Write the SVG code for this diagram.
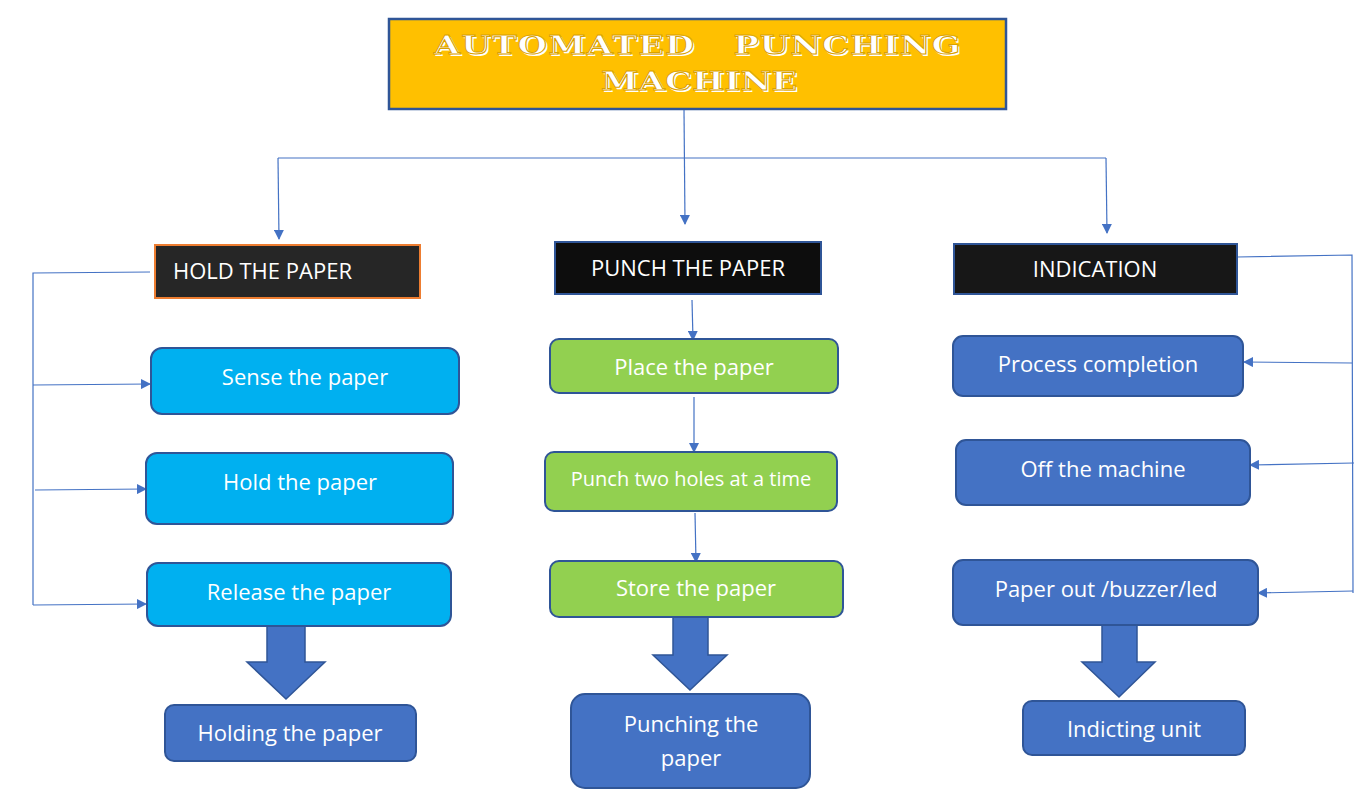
<svg xmlns="http://www.w3.org/2000/svg" width="1367" height="799" viewBox="0 0 1367 799">
<defs>
<marker id="ah" markerWidth="10" markerHeight="10" refX="9" refY="5" orient="auto" markerUnits="userSpaceOnUse">
<path d="M0,0 L10,5 L0,10 Z" fill="#4472C4"/>
</marker>
<style>
.conn{fill:none;stroke:#4472C4;stroke-width:1.2}
.hdr{font-family:"Open Sans","Liberation Sans",sans-serif;font-size:22px;fill:#fff}
.lbl{font-family:"Open Sans","Liberation Sans",sans-serif;font-size:22px;fill:#fff;text-anchor:middle}
.cyan{fill:#00B0F0;stroke:#2F5597;stroke-width:2}
.green{fill:#92D050;stroke:#2F5597;stroke-width:2}
.blue{fill:#4472C4;stroke:#2F5597;stroke-width:2}
.big{fill:#4472C4;stroke:#2F5597;stroke-width:1.5}
.ttl{font-family:"DejaVu Serif","Liberation Serif",serif;font-weight:bold;font-size:26px;text-anchor:middle;fill:#fff;white-space:pre}
.ttlo{stroke:#D9A200;stroke-width:0.9}
</style>
</defs>
<rect width="1367" height="799" fill="#fff"/>

<g id="title">
<rect x="389" y="19" width="617" height="90" fill="#FFC000" stroke="#2F5597" stroke-width="2.5"/>
<g transform="translate(697,0) scale(1.3,1)">
<text class="ttl" x="1.5" y="56" textLength="405" lengthAdjust="spacing" xml:space="preserve">AUTOMATED   PUNCHING</text>
<text class="ttl ttlo" x="0" y="54" textLength="405" lengthAdjust="spacing" xml:space="preserve">AUTOMATED   PUNCHING</text>
<text class="ttl" x="3" y="92" textLength="151" lengthAdjust="spacing">MACHINE</text>
<text class="ttl ttlo" x="1.5" y="90" textLength="151" lengthAdjust="spacing">MACHINE</text>
</g>
</g>

<g id="connectors">
<path class="conn" d="M684,110 L685,224" marker-end="url(#ah)"/>
<path class="conn" d="M278,158 L1106,158"/>
<path class="conn" d="M278,158 L279,239" marker-end="url(#ah)"/>
<path class="conn" d="M1106,158 L1107,233" marker-end="url(#ah)"/>
<path class="conn" d="M150,272 L33,273 L33,605"/>
<path class="conn" d="M33,385 L150,384" marker-end="url(#ah)"/>
<path class="conn" d="M35,490 L146,489" marker-end="url(#ah)"/>
<path class="conn" d="M33,605 L146,604" marker-end="url(#ah)"/>
<path class="conn" d="M692,300 L693,340" marker-end="url(#ah)"/>
<path class="conn" d="M694,397 L694,452" marker-end="url(#ah)"/>
<path class="conn" d="M695,513 L696,562" marker-end="url(#ah)"/>
<path class="conn" d="M1237,257 L1352,255 L1353,593"/>
<path class="conn" d="M1352,363 L1244,362" marker-end="url(#ah)"/>
<path class="conn" d="M1354,463 L1250,465" marker-end="url(#ah)"/>
<path class="conn" d="M1353,591 L1258,593" marker-end="url(#ah)"/>
<path class="big" d="M267,624 L305,624 L305,662 L325,662 L286,699 L247,662 L267,662 Z"/>
<path class="big" d="M673,617 L708,617 L708,655 L727,655 L690,690 L653,655 L673,655 Z"/>
<path class="big" d="M1102,625 L1137,625 L1137,662 L1155,662 L1119,697 L1082,662 L1102,662 Z"/>
</g>

<g id="hold-header">
<rect x="155" y="245" width="265" height="53" fill="#262626" stroke="#ED7D31" stroke-width="2"/>
<text class="hdr" x="173" y="279">HOLD THE PAPER</text>
</g>
<g id="punch-header">
<rect x="555" y="242" width="266" height="52" fill="#0D0D0D" stroke="#2F5597" stroke-width="2"/>
<text class="lbl" x="688" y="276">PUNCH THE PAPER</text>
</g>
<g id="indication-header">
<rect x="954" y="244" width="283" height="50" fill="#171717" stroke="#2F5597" stroke-width="2"/>
<text class="lbl" x="1095" y="277">INDICATION</text>
</g>

<g id="sense">
<rect class="cyan" x="151" y="348" width="308" height="66" rx="11"/>
<text class="lbl" x="305" y="385">Sense the paper</text>
</g>
<g id="hold">
<rect class="cyan" x="146" y="453" width="307" height="71" rx="11"/>
<text class="lbl" x="300" y="490">Hold the paper</text>
</g>
<g id="release">
<rect class="cyan" x="147" y="563" width="304" height="63" rx="11"/>
<text class="lbl" x="299" y="600">Release the paper</text>
</g>
<g id="holding">
<rect class="blue" x="165" y="705" width="251" height="56" rx="9"/>
<text class="lbl" x="290" y="741">Holding the paper</text>
</g>

<g id="place">
<rect class="green" x="550" y="339" width="288" height="54" rx="9"/>
<text class="lbl" x="694" y="375">Place the paper</text>
</g>
<g id="punch-two">
<rect class="green" x="545" y="452" width="292" height="59" rx="9"/>
<text class="lbl" x="691" y="486" style="font-size:20px">Punch two holes at a time</text>
</g>
<g id="store">
<rect class="green" x="550" y="561" width="293" height="56" rx="9"/>
<text class="lbl" x="696" y="596">Store the paper</text>
</g>
<g id="punching">
<rect class="blue" x="571" y="694" width="239" height="94" rx="14"/>
<text class="lbl" x="691" y="732">Punching the</text>
<text class="lbl" x="691" y="766">paper</text>
</g>

<g id="process">
<rect class="blue" x="953" y="336" width="290" height="60" rx="10"/>
<text class="lbl" x="1098" y="372">Process completion</text>
</g>
<g id="off">
<rect class="blue" x="956" y="440" width="294" height="65" rx="10"/>
<text class="lbl" x="1103" y="477">Off the machine</text>
</g>
<g id="paperout">
<rect class="blue" x="953" y="560" width="305" height="65" rx="10"/>
<text class="lbl" x="1106" y="597">Paper out /buzzer/led</text>
</g>
<g id="indicting">
<rect class="blue" x="1023" y="701" width="222" height="54" rx="9"/>
<text class="lbl" x="1134" y="737">Indicting unit</text>
</g>
</svg>
